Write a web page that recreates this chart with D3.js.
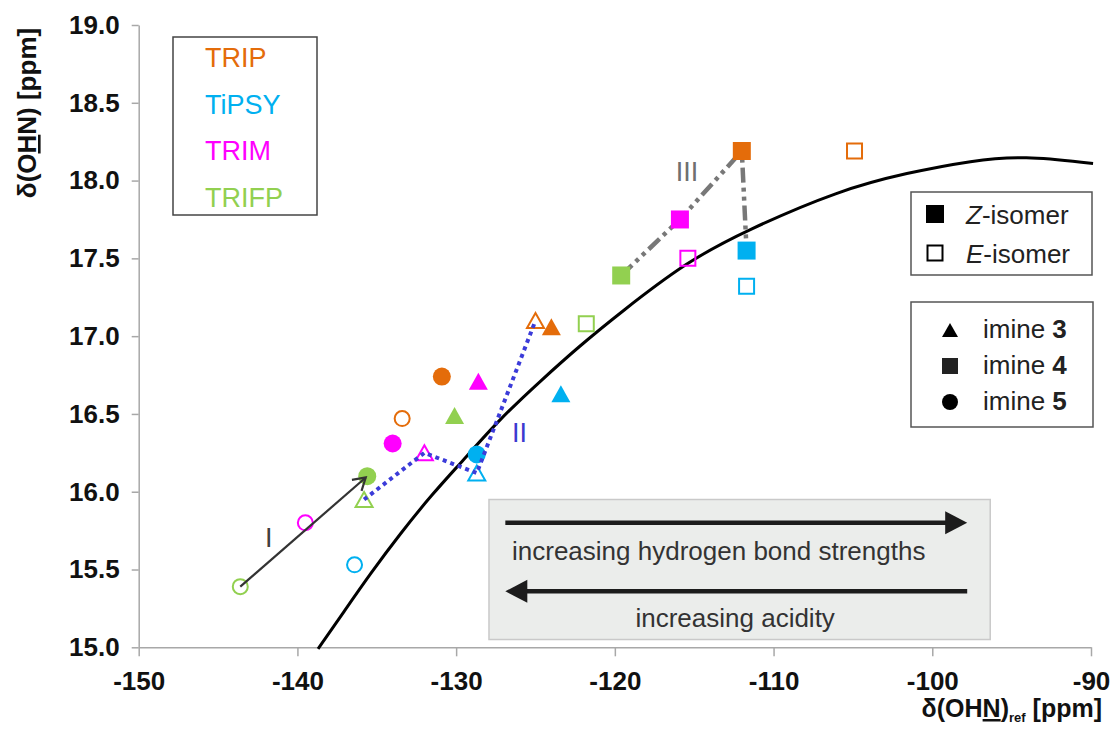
<!DOCTYPE html>
<html><head><meta charset="utf-8">
<script src="https://cdn.jsdelivr.net/npm/d3@7"></script>
<style>
body{margin:0;background:#fff}
svg{display:block}
text{font-family:"Liberation Sans",Arial,sans-serif}
</style>
</head><body>
<svg id="chart" width="1113" height="733"></svg>
<script>
// ---------------- data ----------------
const compounds = ["TRIP", "TiPSY", "TRIM", "TRIFP"];
const compoundColors = ["#E46C0A", "#00B0F0", "#FF00FF", "#92D050"];
// each compound: imine 3 Z, imine 3 E, imine 4 Z, imine 4 E, imine 5 Z, imine 5 E
const imines  = ["3", "3", "4", "4", "5", "5"];
const isomers = ["Z", "E", "Z", "E", "Z", "E"];
const tripX  = [-124.0, -125.0, -112.0, -104.9, -130.9, -133.4];
const tripY  = [17.06, 17.10, 18.19, 18.19, 16.74, 16.47];
const tipsyX = [-123.4, -128.7, -111.7, -111.7, -128.7, -136.4];
const tipsyY = [16.63, 16.12, 17.55, 17.32, 16.24, 15.53];
const trimX  = [-128.6, -132.0, -115.9, -115.4, -134.0, -139.5];
const trimY  = [16.71, 16.25, 17.75, 17.50, 16.31, 15.80];
const trifpX = [-130.1, -135.8, -119.6, -121.8, -135.6, -143.6];
const trifpY = [16.49, 15.95, 17.39, 17.08, 16.10, 15.39];

// correlation curve
const curveX = [-138.70, -137.13, -135.43, -133.53, -131.46, -129.75, -127.23, -124.71, -122.19, -119.67, -115.45, -111.73, -105.81, -101.59, -97.43, -94.28, -89.87];
const curveY = [14.99, 15.22, 15.47, 15.73, 15.99, 16.18, 16.47, 16.71, 16.94, 17.15, 17.48, 17.68, 17.94, 18.05, 18.13, 18.16, 18.11];

const xTicks = [-150, -140, -130, -120, -110, -100, -90];
const yTicks = [15.0, 15.5, 16.0, 16.5, 17.0, 17.5, 18.0, 18.5, 19.0];

// connecting paths (compound, index)
const pathI   = [["TRIFP", 5], ["TRIFP", 4]];
const pathII  = [["TRIFP", 1], ["TRIM", 1], ["TiPSY", 1], ["TRIP", 1]];
const pathIII = [["TRIFP", 2], ["TRIM", 2], ["TRIP", 2], ["TiPSY", 2]];
const pathLabels = ["I", "II", "III"];
const pathLabelX = [-141.8, -126.0, -115.45];
const pathLabelY = [15.71, 16.38, 18.06];

// annotation (data units)
const annoBoxX = [-127.93, -96.35];
const annoBoxY = [15.05, 15.95];
const annoArrowX = [-126.9, -97.8];
const annoArrowY = [15.80, 15.36];
const annoTexts = ["increasing hydrogen bond strengths", "increasing acidity"];
const annoTextX = [-126.48, -112.42];
const annoTextY = [15.56, 15.13];

// ---------------- build ----------------
const seriesX = {TRIP: tripX, TiPSY: tipsyX, TRIM: trimX, TRIFP: trifpX};
const seriesY = {TRIP: tripY, TiPSY: tipsyY, TRIM: trimY, TRIFP: trifpY};
const points = [];
compounds.forEach((c, ci) => {
  seriesX[c].forEach((v, i) => points.push({c, color: compoundColors[ci], imine: imines[i], iso: isomers[i], x: v, y: seriesY[c][i]}));
});
const getPt = ([c, i]) => [seriesX[c][i], seriesY[c][i]];

const svg = d3.select("#chart");
const x = d3.scaleLinear().domain([-150, -90]).range([138.7, 1091]);
const y = d3.scaleLinear().domain([15, 19]).range([647.3, 25]);

function shape(imine, filled) {
  if (imine === "4") { const s = filled ? 18 : 15; return `M${-s/2},${-s/2}h${s}v${s}h${-s}Z`; }
  if (imine === "5") { const r = filled ? 9 : 7.5; return `M${r},0A${r},${r} 0 1,1 ${-r},0A${r},${r} 0 1,1 ${r},0Z`; }
  const w = filled ? 19 : 17, h = filled ? 17 : 15;
  return `M0,${-h/2}L${w/2},${h/2}L${-w/2},${h/2}Z`;
}

// axes
const axColor = "#a8a8a8";
const gx = svg.append("g").attr("transform", `translate(0,${y(15)})`)
  .call(d3.axisBottom(x).tickValues(xTicks).tickSize(9).tickSizeOuter(0).tickPadding(15).tickFormat(d => String(d)));
const gy = svg.append("g").attr("transform", `translate(${x(-150)},0)`)
  .call(d3.axisLeft(y).tickValues(yTicks).tickSize(7).tickSizeOuter(0).tickPadding(12).tickFormat(d3.format(".1f")));
[gx, gy].forEach(g => {
  g.select(".domain").attr("stroke", axColor).attr("stroke-width", 1.5);
  g.selectAll(".tick line").attr("stroke", axColor).attr("stroke-width", 1.5);
  g.selectAll(".tick text").attr("font-family", "Liberation Sans, Arial, sans-serif")
    .attr("font-size", 26).attr("font-weight", "bold").attr("fill", "#111");
});

// axis titles
const yt = svg.append("text").attr("transform", "translate(36,113) rotate(-90)")
  .attr("text-anchor", "middle").attr("font-size", 26).attr("font-weight", "bold").attr("fill", "#111");
yt.append("tspan").text("δ(O");
yt.append("tspan").attr("text-decoration", "underline").text("H");
yt.append("tspan").text("N) [ppm]");

const xt = svg.append("text").attr("x", 1102).attr("y", 717)
  .attr("text-anchor", "end").attr("font-size", 25).attr("font-weight", "bold").attr("fill", "#111");
xt.append("tspan").text("δ(OH");
xt.append("tspan").attr("text-decoration", "underline").text("N");
xt.append("tspan").text(")");
xt.append("tspan").attr("font-size", 13).attr("dy", 5).text("ref");
xt.append("tspan").attr("dy", -5).text(" [ppm]");

// annotation box
svg.append("rect").attr("x", x(annoBoxX[0])).attr("y", y(annoBoxY[1]))
  .attr("width", x(annoBoxX[1]) - x(annoBoxX[0])).attr("height", y(annoBoxY[0]) - y(annoBoxY[1]))
  .attr("fill", "#ebedeb").attr("stroke", "#c9c9c9").attr("stroke-width", 1.5);
function bigArrow(x1, x2, yy) {
  const dir = Math.sign(x2 - x1), hl = 22, hw = 11.5;
  svg.append("line").attr("x1", x1).attr("x2", x2 - dir * hl + dir * 2).attr("y1", yy).attr("y2", yy)
    .attr("stroke", "#1c1c1c").attr("stroke-width", 4.5);
  svg.append("path").attr("d", `M${x2},${yy}L${x2 - dir*hl},${yy - hw}L${x2 - dir*hl},${yy + hw}Z`).attr("fill", "#1c1c1c");
}
bigArrow(x(annoArrowX[0]), x(annoArrowX[1]), y(annoArrowY[0]));
bigArrow(x(annoArrowX[1]), x(annoArrowX[0]), y(annoArrowY[1]));
svg.append("text").attr("x", x(annoTextX[0])).attr("y", y(annoTextY[0])).attr("font-size", 26)
  .attr("fill", "#333").text(annoTexts[0]);
svg.append("text").attr("x", x(annoTextX[1])).attr("y", y(annoTextY[1])).attr("font-size", 26)
  .attr("text-anchor", "middle").attr("fill", "#333").text(annoTexts[1]);

// curve
const curvePts = curveX.map((v, i) => [v, curveY[i]]);
svg.append("path").datum(curvePts)
  .attr("d", d3.line().x(d => x(d[0])).y(d => y(d[1])).curve(d3.curveBasis))
  .attr("fill", "none").attr("stroke", "#000").attr("stroke-width", 3);

const lineGen = d3.line().x(d => x(d[0])).y(d => y(d[1]));
// path III (dash-dot gray)
svg.append("path").datum(pathIII.map(getPt)).attr("d", lineGen)
  .attr("fill", "none").attr("stroke", "#787878").attr("stroke-width", 4.5).attr("stroke-dasharray", "15,5,4,5,4,5");

// points
svg.append("g").selectAll("path").data(points).join("path")
  .attr("transform", d => `translate(${x(d.x)},${y(d.y)})`)
  .attr("d", d => shape(d.imine, d.iso === "Z"))
  .attr("fill", d => d.iso === "Z" ? d.color : "none")
  .attr("stroke", d => d.iso === "Z" ? "none" : d.color)
  .attr("stroke-width", 2);

// path II (dotted blue)
svg.append("path").datum(pathII.map(getPt)).attr("d", lineGen)
  .attr("fill", "none").attr("stroke", "#3b3bd9").attr("stroke-width", 4).attr("stroke-dasharray", "4,4");

// path I arrow (drawn on top)
{
  const [a, b] = pathI.map(getPt);
  const x1 = x(a[0]), y1 = y(a[1]), xc = x(b[0]), yc = y(b[1]);
  const ang = Math.atan2(yc - y1, xc - x1), L = 14, sp = 0.55;
  const x2 = xc - 2 * Math.cos(ang), y2 = yc - 2 * Math.sin(ang);
  svg.append("line").attr("x1", x1).attr("y1", y1).attr("x2", x2).attr("y2", y2)
    .attr("stroke", "#333").attr("stroke-width", 2.2);
  svg.append("path").attr("d",
    `M${x2 - L*Math.cos(ang - sp)},${y2 - L*Math.sin(ang - sp)}L${x2},${y2}L${x2 - L*Math.cos(ang + sp)},${y2 - L*Math.sin(ang + sp)}`)
    .attr("fill", "none").attr("stroke", "#333").attr("stroke-width", 2.2);
}

// path labels
const labelColors = ["#404040", "#3b3bd0", "#707070"];
pathLabels.forEach((t, i) => {
  svg.append("text").attr("x", x(pathLabelX[i])).attr("y", y(pathLabelY[i])).attr("dy", "0.36em")
    .attr("text-anchor", "middle").attr("font-size", 27).attr("fill", labelColors[i]).text(t);
});

// legend 1: compounds
svg.append("rect").attr("x", 173).attr("y", 37).attr("width", 144).attr("height", 178)
  .attr("fill", "#fff").attr("stroke", "#444").attr("stroke-width", 1.5);
compounds.forEach((c, i) => {
  svg.append("text").attr("x", 205).attr("y", 67 + i * 46.7).attr("font-size", 27)
    .attr("fill", compoundColors[i]).text(c);
});

// legend 2: isomers
svg.append("rect").attr("x", 911).attr("y", 192).attr("width", 181).attr("height", 83)
  .attr("fill", "#fff").attr("stroke", "#555").attr("stroke-width", 1.5);
const isoLabels = ["Z", "E"];
isoLabels.forEach((t, i) => {
  const cy = 214 + i * 39;
  svg.append("path").attr("transform", `translate(935,${cy})`).attr("d", shape("4", i === 0))
    .attr("fill", i === 0 ? "#000" : "none").attr("stroke", i === 0 ? "none" : "#000").attr("stroke-width", 2);
  const tx = svg.append("text").attr("x", 966).attr("y", cy + 10).attr("font-size", 26).attr("fill", "#222");
  tx.append("tspan").attr("font-style", "italic").text(t);
  tx.append("tspan").text("-isomer");
});

// legend 3: imines
svg.append("rect").attr("x", 911).attr("y", 302).attr("width", 182).attr("height", 125)
  .attr("fill", "#fff").attr("stroke", "#555").attr("stroke-width", 1.5);
["3", "4", "5"].forEach((t, i) => {
  const cy = 330 + i * 36;
  const s = t === "3" ? `M0,-7L8,7L-8,7Z` : t === "4" ? `M-8,-8h16v16h-16Z` : `M8,0A8,8 0 1,1 -8,0A8,8 0 1,1 8,0Z`;
  svg.append("path").attr("transform", `translate(950,${cy})`).attr("d", s).attr("fill", t === "4" ? "#222" : "#000");
  const tx = svg.append("text").attr("x", 983).attr("y", cy + 8).attr("font-size", 26).attr("fill", "#222");
  tx.append("tspan").text("imine ");
  tx.append("tspan").attr("font-weight", "bold").text(t);
});
</script>
</body></html>
